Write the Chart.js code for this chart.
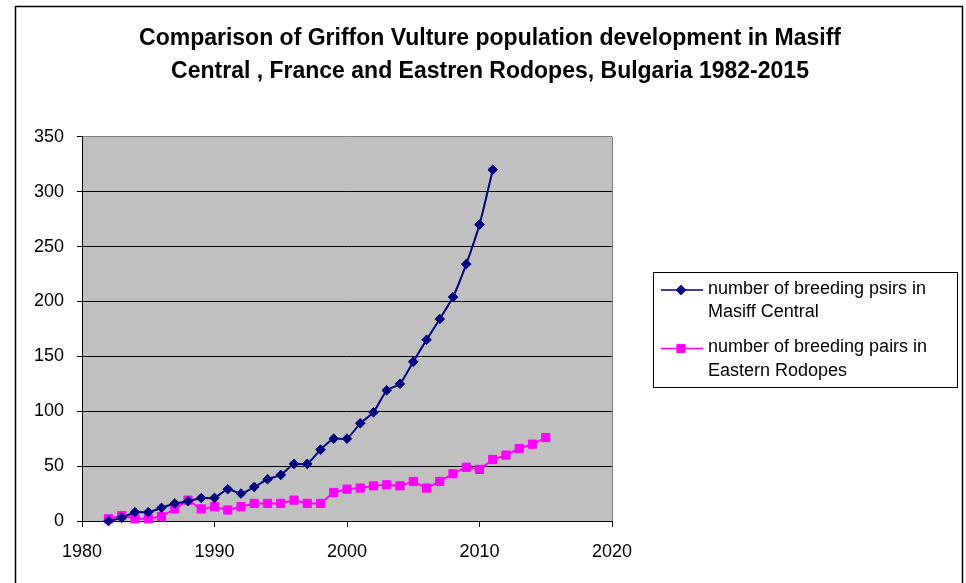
<!DOCTYPE html>
<html>
<head>
<meta charset="utf-8">
<script src="https://cdn.jsdelivr.net/npm/chart.js@4.4.1/dist/chart.umd.min.js"></script>
<style>
  html, body { margin: 0; padding: 0; background: #fff; }
  #wrap { width: 966px; height: 583px; position: relative; }
</style>
</head>
<body>
<div id="wrap"><canvas id="vultures"></canvas></div>
<script>
// Years and breeding pairs
const years = [1982, 1983, 1984, 1985, 1986, 1987, 1988, 1989, 1990, 1991,
               1992, 1993, 1994, 1995, 1996, 1997, 1998, 1999, 2000, 2001,
               2002, 2003, 2004, 2005, 2006, 2007, 2008, 2009, 2010, 2011,
               2012, 2013, 2014, 2015];
const masiffCentral = [0, 3, 8, 8, 12, 16, 18, 21, 21, 29,
                       25, 31, 38, 42, 52, 52, 65, 75, 75, 89,
                       99, 119, 125, 145, 165, 184, 204, 234, 270, 320];
const easternRodopes = [2, 5, 2, 2, 4, 11, 19, 11, 13, 10,
                        13, 16, 16, 16, 19, 16, 16, 26, 29, 30,
                        32, 33, 32, 36, 30, 36, 43, 49, 47, 56,
                        60, 66, 70, 76];
const seriesNames = [
  ['number of breeding psirs in', 'Masiff Central'],
  ['number of breeding pairs in', 'Eastern Rodopes']
];
const titleLines = [
  'Comparison of Griffon Vulture population development in Masiff',
  'Central , France and Eastren Rodopes, Bulgaria 1982-2015'
];
const xTicks = [1980, 1990, 2000, 2010, 2020];
const yTicks = [0, 50, 100, 150, 200, 250, 300, 350];

const FONT = "'Liberation Sans', Arial, sans-serif";

// grey plot area, outer frame and the wrapped legend
const excelLook = {
  id: 'excelLook',
  beforeDraw(chart) {
    const { ctx, chartArea: a } = chart;
    ctx.save();
    ctx.fillStyle = '#fff';
    ctx.fillRect(0, 0, chart.width, chart.height);
    ctx.fillStyle = '#c0c0c0';
    ctx.fillRect(a.left, a.top, a.right - a.left, a.bottom - a.top);
    ctx.strokeStyle = '#808080';
    ctx.lineWidth = 1;
    ctx.beginPath();
    ctx.moveTo(Math.round(a.right) + 0.5, a.top);
    ctx.lineTo(Math.round(a.right) + 0.5, a.bottom);
    ctx.stroke();
    ctx.restore();
  },
  afterDraw(chart) {
    const ctx = chart.ctx;
    ctx.save();
    // outer frame
    ctx.strokeStyle = '#000';
    ctx.lineWidth = 1.5;
    ctx.strokeRect(15.5, 6.5, 947, 700);

    // legend box
    ctx.lineWidth = 1;
    ctx.strokeStyle = '#000';
    ctx.strokeRect(653.5, 272.5, 304, 115);

    ctx.font = '18px ' + FONT;
    ctx.textBaseline = 'middle';
    ctx.textAlign = 'left';
    const rows = [289, 347.5];
    chart.data.datasets.forEach((ds, i) => {
      const y = rows[i];
      ctx.strokeStyle = ds.borderColor;
      ctx.lineWidth = 1.5;
      ctx.beginPath();
      ctx.moveTo(661, y + 1);
      ctx.lineTo(703, y + 1);
      ctx.stroke();
      ctx.fillStyle = ds.pointBackgroundColor;
      ctx.strokeStyle = ds.pointBorderColor;
      ctx.lineWidth = 1;
      Chart.helpers.drawPoint(ctx, {
        pointStyle: ds.pointStyle,
        radius: ds.pointRadius,
        borderWidth: 1
      }, 681, y + 1);
      ctx.fillStyle = '#000';
      seriesNames[i].forEach((line, j) => {
        ctx.fillText(line, 708, y + j * 23.5);
      });
    });
    ctx.restore();
  }
};

const ctx = document.getElementById('vultures').getContext('2d');
const chart = new Chart(ctx, {
  type: 'line',
  data: {
    datasets: [{
      label: seriesNames[0].join(' '),
      data: masiffCentral.map((v, i) => ({ x: years[i], y: v })),
      borderColor: '#000080',
      backgroundColor: '#000080',
      pointBackgroundColor: '#000080',
      pointBorderColor: '#000080',
      pointStyle: 'rectRot',
      pointRadius: 4.8,
      pointBorderWidth: 1,
      borderWidth: 2,
      tension: 0.2,
      clip: false
    }, {
      label: seriesNames[1].join(' '),
      data: easternRodopes.map((v, i) => ({ x: years[i], y: v })),
      borderColor: '#ff00ff',
      backgroundColor: '#ff00ff',
      pointBackgroundColor: '#ff00ff',
      pointBorderColor: '#ff00ff',
      pointStyle: 'rect',
      pointRadius: 5.8,
      pointBorderWidth: 1,
      borderWidth: 2,
      tension: 0,
      clip: false
    }]
  },
  options: {
    responsive: true,
    maintainAspectRatio: false,
    animation: false,
    devicePixelRatio: 1,
    layout: { padding: { left: 14, right: 0, top: 0, bottom: 0 } },
    plugins: {
      legend: { display: false },
      tooltip: { enabled: false },
      title: {
        display: true,
        text: titleLines,
        color: '#000',
        font: { family: FONT, size: 23, weight: 'bold', lineHeight: 1.43 },
        padding: { top: 22, bottom: 49 }
      }
    },
    scales: {
      x: {
        type: 'linear',
        min: xTicks[0],
        max: xTicks[xTicks.length - 1],
        afterBuildTicks(scale) {
          scale.ticks = xTicks.map(v => ({ value: v }));
        },
        afterFit(scale) { scale.height = 62; },
        grid: {
          drawOnChartArea: false,
          drawTicks: true,
          tickLength: 6,
          color: '#000',
          tickColor: '#000'
        },
        border: { color: '#000', width: 1 },
        ticks: {
          color: '#000',
          padding: 14,
          maxRotation: 0,
          font: { family: FONT, size: 18 },
          callback: v => String(v)
        }
      },
      y: {
        min: yTicks[0],
        max: yTicks[yTicks.length - 1],
        afterBuildTicks(scale) {
          scale.ticks = yTicks.map(v => ({ value: v }));
        },
        afterFit(scale) { scale.width = 68; },
        grid: {
          color: c => (c.tick && c.tick.value === 350 ? '#808080' : '#000'),
          tickColor: '#000',
          tickLength: 5,
          lineWidth: 1
        },
        border: { color: '#000', width: 1 },
        ticks: {
          color: '#000',
          padding: 13,
          font: { family: FONT, size: 18 }
        }
      },
      // empty axis on the right that only keeps room for the legend
      legendRoom: {
        position: 'right',
        min: 0,
        max: 1,
        afterFit(scale) { scale.width = 354; },
        grid: { display: false },
        border: { display: false },
        ticks: { display: false }
      }
    }
  },
  plugins: [excelLook]
});
</script>
</body>
</html>
